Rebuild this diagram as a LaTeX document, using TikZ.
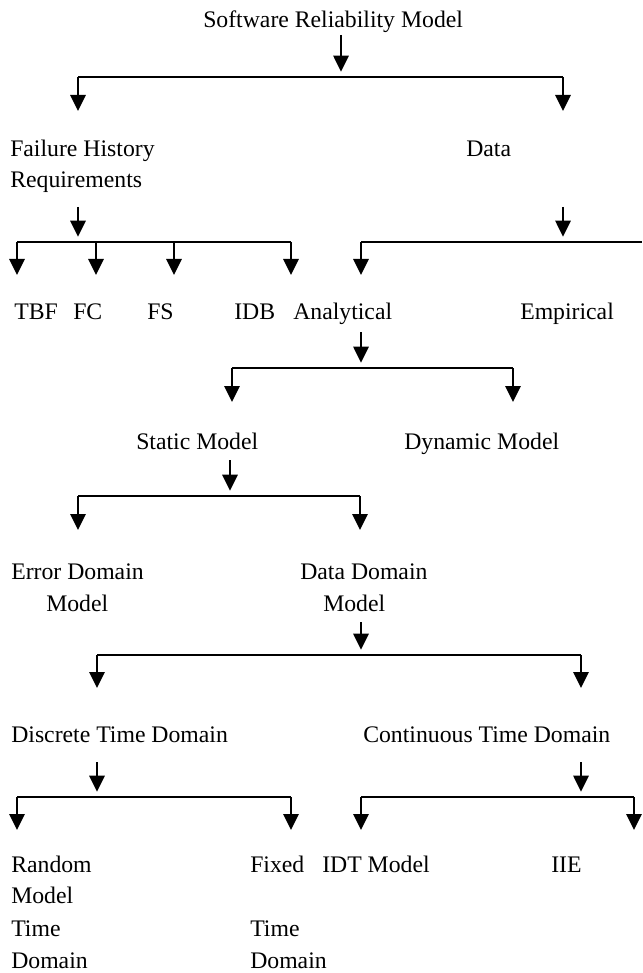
\documentclass[tikz,border=0pt]{standalone}
\usepackage{fontspec}
\setmainfont{Liberation Serif}
\usetikzlibrary{arrows.meta}
\begin{document}
\begin{tikzpicture}[x=0.75pt,y=-0.75pt,
  lbl/.style={anchor=base west, inner sep=0pt, font=\fontsize{17.8}{21}\selectfont},
  link/.style={line width=1.4pt},
  arr/.style={link, -{Triangle[length=12pt,width=11.5pt]}},
  stem/.style={arr, shorten >=4pt}
]
\useasboundingbox (0,0) rectangle (642,973);

% ---------- labels ----------
\node[lbl] (srm)  at (203,28)  {Software Reliability Model};
\node[lbl] (fh1)  at (10,157)  {Failure History};
\node[lbl] (fh2)  at (10,188)  {Requirements};
\node[lbl] (data) at (466,157) {Data};
\node[lbl] (tbf)  at (14,319)  {TBF};
\node[lbl] (fc)   at (73,319)  {FC};
\node[lbl] (fs)   at (147,319) {FS};
\node[lbl] (idb)  at (234,319) {IDB};
\node[lbl] (ana)  at (293,319) {Analytical};
\node[lbl] (emp)  at (520,319) {Empirical};
\node[lbl] (stat) at (136,449) {Static Model};
\node[lbl] (dyn)  at (404,449) {Dynamic Model};
\node[lbl] (edm1) at (11,579)  {Error Domain};
\node[lbl] (edm2) at (46,611)  {Model};
\node[lbl] (ddm1) at (300,579) {Data Domain};
\node[lbl] (ddm2) at (323,611) {Model};
\node[lbl] (dtd)  at (11,742)  {Discrete Time Domain};
\node[lbl] (ctd)  at (363,742) {Continuous Time Domain};
\node[lbl] (rm1)  at (11,872)  {Random};
\node[lbl] (rm2)  at (11,903)  {Model};
\node[lbl] (rm3)  at (11,936)  {Time};
\node[lbl] (rm4)  at (11,968)  {Domain};
\node[lbl] (fx1)  at (250,872) {Fixed};
\node[lbl] (fx2)  at (250,936) {Time};
\node[lbl] (fx3)  at (250,968) {Domain};
\node[lbl] (idt)  at (322,872) {IDT Model};
\node[lbl] (iie)  at (551,872) {IIE};

% ---------- Software Reliability Model -> two branches ----------
\coordinate (s1) at (341,35);  \coordinate (j1) at (341,77);
\coordinate (b1l) at (78,77);  \coordinate (b1r) at (563,77);
\coordinate (t1l) at (78,111); \coordinate (t1r) at (563,111);
\draw[stem] (s1) -- (j1);
\draw[link] (b1l) -- (b1r);
\draw[arr] (b1l) -- (t1l);
\draw[arr] (b1r) -- (t1r);

% ---------- Failure History Requirements -> TBF, FC, FS, IDB ----------
\coordinate (s2) at (78,207);   \coordinate (j2) at (78,242);
\coordinate (b2l) at (17,242);  \coordinate (b2a) at (96,242);
\coordinate (b2b) at (174,242); \coordinate (b2r) at (291,242);
\draw[stem] (s2) -- (j2);
\draw[link] (b2l) -- (b2r);
\foreach \c in {b2l,b2a,b2b,b2r} \draw[arr] (\c) -- ++(0,33);

% ---------- Data -> Analytical, Empirical ----------
\coordinate (s3) at (563,207);  \coordinate (j3) at (563,242);
\coordinate (b3l) at (361,242); \coordinate (b3r) at (642,242);
\draw[stem] (s3) -- (j3);
\draw[link] (b3l) -- (b3r);
\draw[arr] (b3l) -- ++(0,33);

% ---------- Analytical -> Static, Dynamic ----------
\coordinate (s4) at (361,332);  \coordinate (j4) at (361,368);
\coordinate (b4l) at (232,368); \coordinate (b4r) at (513,368);
\draw[stem] (s4) -- (j4);
\draw[link] (b4l) -- (b4r);
\draw[arr] (b4l) -- ++(0,34);
\draw[arr] (b4r) -- ++(0,34);

% ---------- Static Model -> Error / Data Domain ----------
\coordinate (s5) at (230,460);  \coordinate (j5) at (230,496);
\coordinate (b5l) at (78,496);  \coordinate (b5r) at (360,496);
\draw[stem] (s5) -- (j5);
\draw[link] (b5l) -- (b5r);
\draw[arr] (b5l) -- ++(0,34);
\draw[arr] (b5r) -- ++(0,34);

% ---------- Data Domain Model -> Discrete / Continuous ----------
\coordinate (s6) at (361,622);  \coordinate (j6) at (361,655);
\coordinate (b6l) at (97,655);  \coordinate (b6r) at (581,655);
\draw[stem] (s6) -- (j6);
\draw[link] (b6l) -- (b6r);
\draw[arr] (b6l) -- ++(0,33);
\draw[arr] (b6r) -- ++(0,33);

% ---------- Discrete Time Domain -> Random / Fixed ----------
\coordinate (s7) at (97,762);   \coordinate (j7) at (97,797);
\coordinate (b7l) at (17,797);  \coordinate (b7r) at (291,797);
\draw[stem] (s7) -- (j7);
\draw[link] (b7l) -- (b7r);
\draw[arr] (b7l) -- ++(0,33);
\draw[arr] (b7r) -- ++(0,33);

% ---------- Continuous Time Domain -> IDT Model / IIE ----------
\coordinate (s8) at (581,762);  \coordinate (j8) at (581,797);
\coordinate (b8l) at (361,797); \coordinate (b8r) at (634,797);
\draw[stem] (s8) -- (j8);
\draw[link] (b8l) -- (b8r);
\draw[arr] (b8l) -- ++(0,33);
\draw[arr] (b8r) -- ++(0,33);
\end{tikzpicture}
\end{document}
